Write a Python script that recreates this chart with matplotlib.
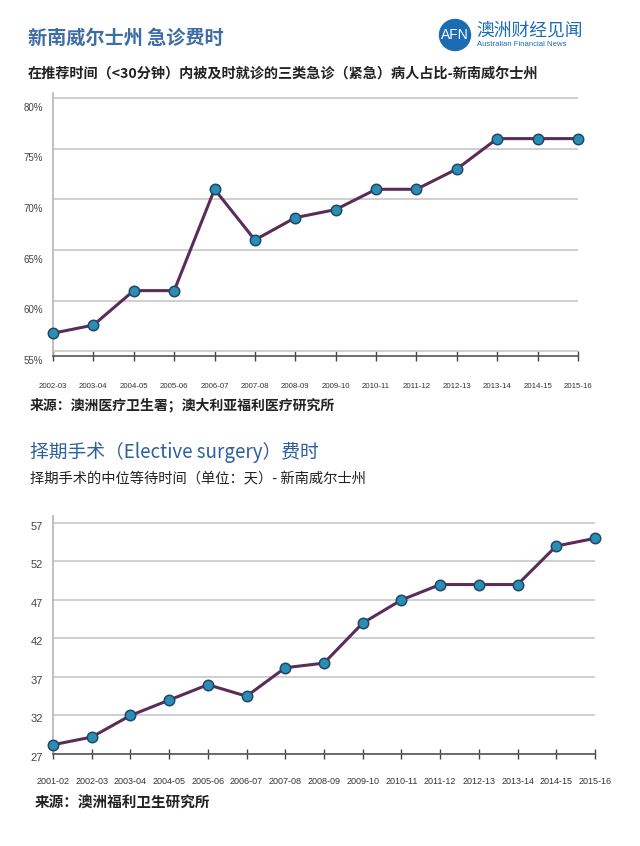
import matplotlib
matplotlib.use("Agg")
import matplotlib.pyplot as plt
import matplotlib.transforms as mtransforms
from matplotlib.patches import Circle

plt.rcParams['font.family'] = ['Noto Sans CJK SC', 'DejaVu Sans']

# chart 1: share of triage 3 patients seen on time
years1 = ["2002-03", "2003-04", "2004-05", "2005-06", "2006-07", "2007-08", "2008-09",
          "2009-10", "2010-11", "2011-12", "2012-13", "2013-14", "2014-15", "2015-16"]
pct_on_time = [56.8, 57.6, 61, 61, 71, 66, 68.2, 69, 71, 71, 73, 76, 76, 76]
yticks1 = [55, 60, 65, 70, 75, 80]

# chart 2: median wait for elective surgery (days)
years2 = ["2001-02", "2002-03", "2003-04", "2004-05", "2005-06", "2006-07", "2007-08",
          "2008-09", "2009-10", "2010-11", "2011-12", "2012-13", "2013-14", "2014-15", "2015-16"]
median_wait = [28.2, 29.2, 32, 34, 36, 34.5, 38.2, 38.8, 44, 47, 49, 49, 49, 54, 55]
yticks2 = [27, 32, 37, 42, 47, 52, 57]

TITLE_BLUE = "#2d5f9e"
LOGO_BLUE = "#1b6cb4"
LINE_COL = "#5b2c59"
MARK_FACE = "#2b8db3"
MARK_EDGE = "#1d4866"
NUM_FONT = ['Liberation Sans', 'DejaVu Sans']

fig = plt.figure(figsize=(6.4, 8.46), dpi=100)
W, H = 640, 846


def fx(px):
    return px / W


def fy(py):
    return 1 - py / H


def style_axes(ax, years, yticks, ylim, fmt, xfs, yfs, ydrop, xpad):
    ax.set_xlim(0, len(years) - 1)
    ax.set_ylim(*ylim)
    ax.set_xticks(range(len(years)))
    ax.set_xticklabels(years, fontsize=xfs, family=NUM_FONT, color="#333333")
    ax.set_yticks(yticks)
    ax.set_yticklabels([fmt(v) for v in yticks], fontsize=yfs, family=NUM_FONT, color="#444444")
    ax.tick_params(axis="x", direction="inout", length=7, width=1, color="#444444", pad=xpad)
    ax.tick_params(axis="y", length=0, pad=7)
    for s in ("top", "right"):
        ax.spines[s].set_visible(False)
    ax.spines["left"].set_color("#b5b5b5")
    ax.spines["left"].set_linewidth(1.2)
    ax.spines["bottom"].set_color("#555555")
    ax.spines["bottom"].set_linewidth(1.2)
    ax.yaxis.grid(True, color="#cccccc", lw=1.3)
    ax.set_axisbelow(True)
    off = mtransforms.ScaledTranslation(0, -ydrop / 100, fig.dpi_scale_trans)
    for lbl in ax.get_yticklabels():
        lbl.set_transform(lbl.get_transform() + off)


def draw_line(ax, vals):
    ax.plot(range(len(vals)), vals, color=LINE_COL, lw=2.2, marker="o", ms=7.5,
            mfc=MARK_FACE, mec=MARK_EDGE, mew=1.1, clip_on=False, zorder=3)


# header
fig.text(fx(28), fy(38), "新南威尔士州 急诊费时", fontsize=13.8, fontweight="bold",
         color=TITLE_BLUE, va="center", alpha=0.92)
fig.text(fx(28), fy(74), "在推荐时间（<30分钟）内被及时就诊的三类急诊（紧急）病人占比-新南威尔士州",
         fontsize=10.2, fontweight="bold", color="#222222", va="center")

# logo
logo = Circle((455, H - 35), 15.5, transform=None, color=LOGO_BLUE)
fig.patches.append(logo)
fig.text(fx(455), fy(35), "AFN", fontsize=10, color="white", ha="center", va="center",
         family=NUM_FONT)
fig.text(fx(476), fy(31), "澳洲财经见闻", fontsize=12.8, color=LOGO_BLUE, va="center")
fig.text(fx(477), fy(45), "Australian Financial News", fontsize=5.6, color=LOGO_BLUE,
         va="center", family=NUM_FONT)

# chart 1
ax1 = fig.add_axes([fx(53), fy(356), fx(578) - fx(53), fy(93) - fy(356)])
style_axes(ax1, years1, yticks1, (54.55, 80.5), lambda v: f"{v}%", 5.7, 7, 8.5, 16)
draw_line(ax1, pct_on_time)

fig.text(fx(30), fy(405), "来源：澳洲医疗卫生署；澳大利亚福利医疗研究所", fontsize=10,
         fontweight="bold", color="#222222", va="center")

# chart 2 header
fig.text(fx(30), fy(452), "择期手术（Elective surgery）费时", fontsize=13.5,
         color=TITLE_BLUE, va="center")
fig.text(fx(30), fy(478), "择期手术的中位等待时间（单位：天）- 新南威尔士州", fontsize=10.3,
         color="#222222", va="center")

# chart 2
ax2 = fig.add_axes([fx(53), fy(754), fx(595) - fx(53), fy(516) - fy(754)])
style_axes(ax2, years2, yticks2, (27, 57.9), lambda v: f"{v}", 6.5, 8, 3, 13)
draw_line(ax2, median_wait)

fig.text(fx(35), fy(803), "来源：澳洲福利卫生研究所", fontsize=10.5,
         fontweight="bold", color="#222222", va="center")

fig.savefig("out.png", dpi=100)
